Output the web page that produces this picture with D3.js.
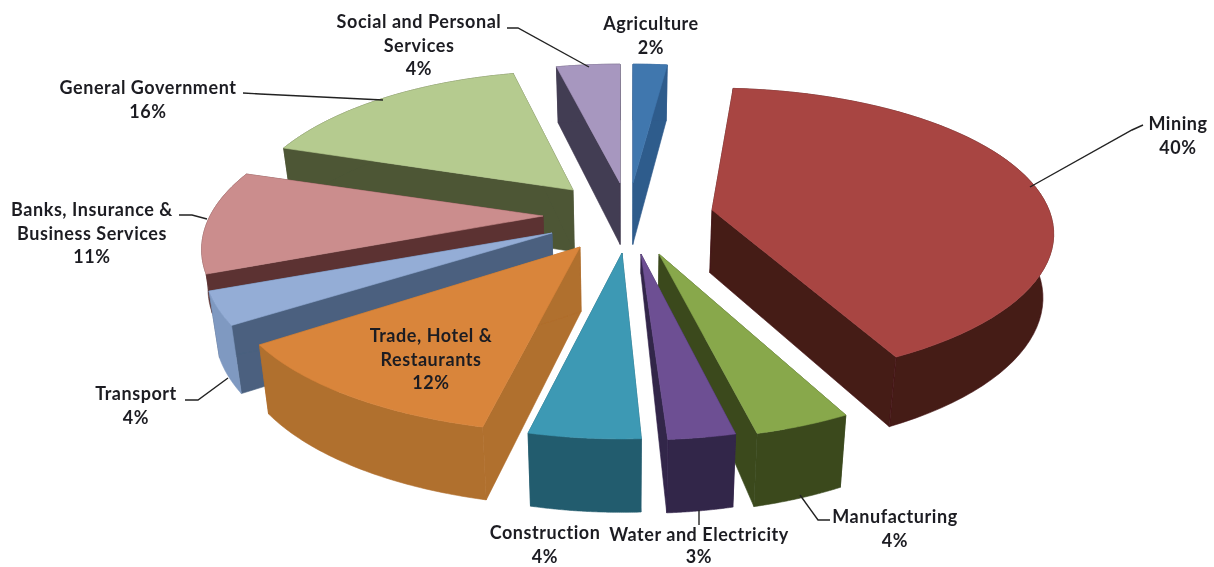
<!DOCTYPE html>
<html>
<head>
<meta charset="utf-8">
<script src="https://cdn.jsdelivr.net/npm/d3@7"></script>
<style>
html,body{margin:0;padding:0;background:#fff;overflow:hidden}
svg{display:block}
text{font-family:Lato,"Open Sans",sans-serif;font-weight:700;font-size:18px;letter-spacing:.55px;fill:#1d1d22;text-anchor:middle}
</style>
</head>
<body>
<svg id="chart" width="1214" height="567">
  <defs><filter id="soft" x="-5%" y="-5%" width="110%" height="110%"><feGaussianBlur stdDeviation="0.45"/></filter></defs>
</svg>
<script>
// Data
const categories = ["Agriculture","Mining","Manufacturing","Water and Electricity","Construction","Trade, Hotel & Restaurants","Transport","Banks, Insurance & Business Services","General Government","Social and Personal Services"];
const values = [2,40,4,3,4,12,4,11,16,4];

// Styles
const topColors  = ["#3f77ae","#a84543","#88a84c","#6d4f93","#3c99b4","#d9853b","#94add6","#cb8d8d","#b5cb8f","#a797bf"];
const wallColors = ["#2f5b8c","#451a16","#3b4a1f","#32254a","#245c6e","#b06f2e","#4b617f","#5c3333","#4d5636","#433c53"];
const rimColors  = ["#2f5b8c","#451a16","#3b4a1f","#32254a","#245c6e","#b06f2e","#7f99c1","#5c3333","#4d5636","#433c53"];

// Layout of each exploded slice: the apex on the page, optional trims, and paint order
const apexX = [633,712,659,641,622,580,552,543,573,620];
const apexY = [183,210,254,254,253,247,233,216,190,183];
const apexDepth = [1,1,0.5,0.3,1,1,1,1,1,1];
const sliceDepth = [1,1,1,1,1,1,1,0.6,1,1];
const trimStart = [0,-3,2,1.5,1,2,2,0,0,1];
const trimEnd   = [0,1,1,0,2,0,0,0,1.5,0];
const sliceRX = [333,337,333,333,333,345,339,333,325,333];
const sliceRY = [145,142,145,145,145,145,145,145,145,145];
const sliceK  = [.22,.165,.22,.22,.22,.22,.22,.22,.22,.22];
const paintOrder = [0,9,8,1,7,6,5,2,3,4];

const labelLines = [
  {text:["Agriculture","2%"], x:651, y:30},
  {text:["Mining","40%"], x:1178, y:130},
  {text:["Manufacturing","4%"], x:895, y:523},
  {text:["Water and Electricity","3%"], x:699, y:541, gap:22},
  {text:["Construction","4%"], x:545, y:539},
  {text:["Trade, Hotel &","Restaurants","12%"], x:431, y:342},
  {text:["Transport","4%"], x:136, y:400},
  {text:["Banks, Insurance &","Business Services","11%"], x:92, y:216},
  {text:["General Government","16%"], x:148, y:94},
  {text:["Social and Personal","Services","4%"], x:419, y:28}
];
const leaders = [
  [[1143,125],[1132,130],[1030,187]],
  [[830,520],[818,520],[800,495]],
  [[699,510],[699,525]],
  [[185,400],[198,400],[228,378]],
  [[179,215],[192,215],[207,219]],
  [[243,93],[260,94],[383,100]],
  [[507,28],[518,28],[589,67]]
];

const VANISH_X = 625, CONVERGE = 0.025;
const depth = d3.scaleLinear().domain([65,430]).range([56,73]);

const pie = d3.pie().sort(null).startAngle(0).endAngle(2*Math.PI);
const arcs = pie(values);
const svg = d3.select("#chart");
const line = d3.line();
const rad = Math.PI/180;

function project(i, a){            // a: radians clockwise from the back of the pie
  const w = 1 + sliceK[i]*Math.cos(a);
  return [apexX[i] + sliceRX[i]*Math.sin(a)/w, apexY[i] - sliceRY[i]*Math.cos(a)/w];
}
function drop(p, scale=1){         // the matching point on the underside
  return [p[0] + (VANISH_X-p[0])*CONVERGE*scale, p[1] + depth(p[1])*scale];
}

const g = svg.append("g").attr("filter","url(#soft)");
function face(pts, color){
  g.append("path").attr("d", line(pts)+"Z").attr("fill",color).attr("stroke",color).attr("stroke-width",0.6).attr("stroke-linejoin","round");
}
paintOrder.forEach(i=>{
  const a0 = arcs[i].startAngle + trimStart[i]*rad;
  const a1 = arcs[i].endAngle + trimEnd[i]*rad;
  const samples = d3.range(0,61).map(t=>a0 + (a1-a0)*t/60);
  const rim = samples.map(a=>project(i,a));
  const apex = [apexX[i],apexY[i]];
  const s = sliceDepth[i];
  const apexLow = drop(apex, apexDepth[i]*s);
  const first = rim[0], last = rim[rim.length-1];
  face([apex,first,drop(first,s),apexLow], wallColors[i]);   // cut faces
  face([apex,last,drop(last,s),apexLow], wallColors[i]);
  face(rim.concat(rim.map(p=>drop(p,s)).reverse()), rimColors[i]);   // outer wall
  face([apex].concat(rim), topColors[i]);   // top face
});

const leaderG = svg.append("g").attr("filter","url(#soft)");
leaders.forEach(pts=>{
  leaderG.append("path").attr("d",line(pts)).attr("fill","none").attr("stroke","#222").attr("stroke-width",1.4);
});

const labelG = svg.append("g").attr("filter","url(#soft)");
labelLines.forEach(l=>{
  const t = labelG.append("text").attr("x",l.x).attr("y",l.y);
  l.text.forEach((s,j)=>t.append("tspan").attr("x",l.x).attr("y",l.y+j*(l.gap||23.5)).text(s));
});
</script>
</body>
</html>
